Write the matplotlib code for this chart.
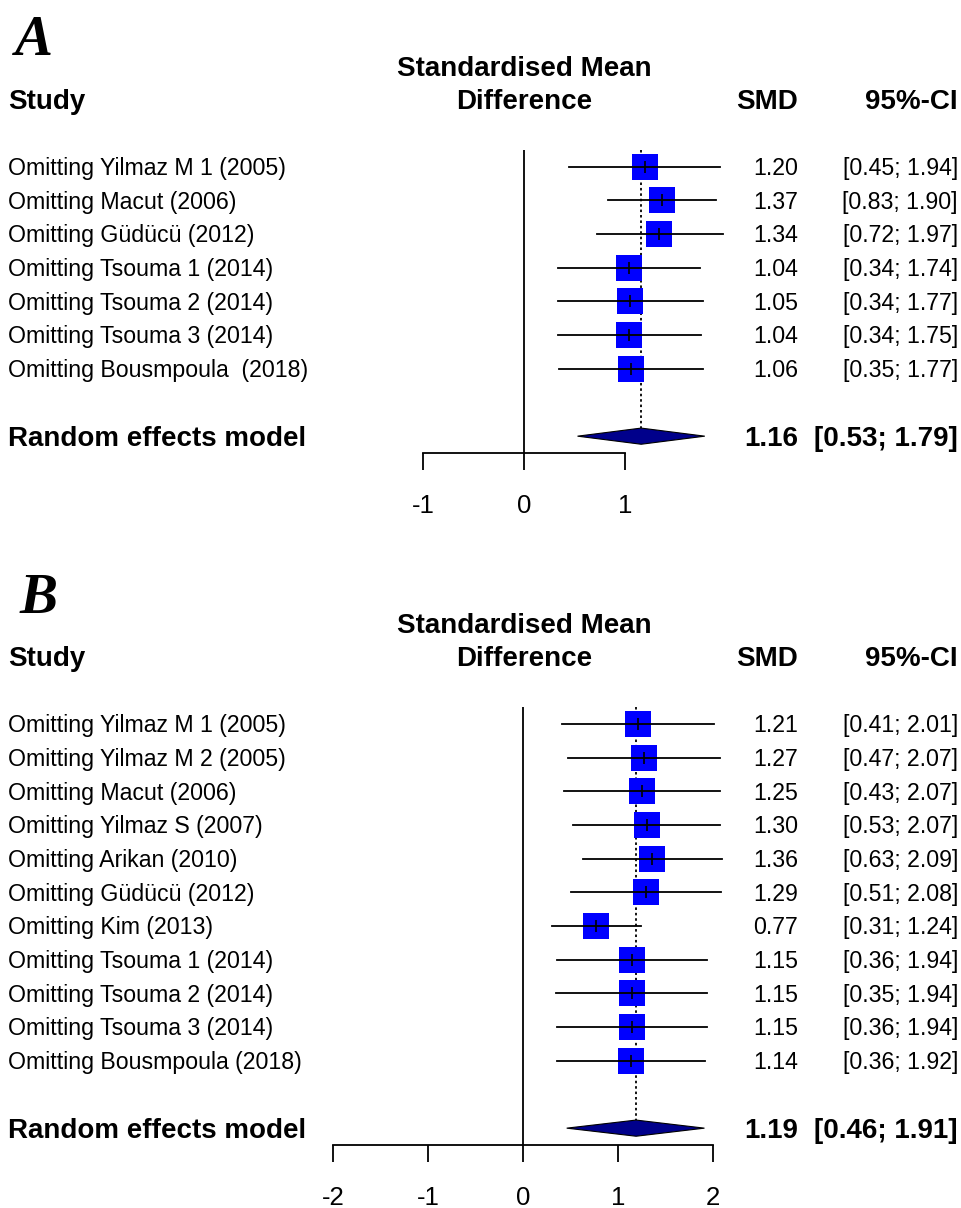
import numpy as np
import matplotlib
matplotlib.use("Agg")
import matplotlib.pyplot as plt
from matplotlib import transforms
from matplotlib.patches import Polygon

# ---------------- data ----------------
studies_a = ["Omitting Yilmaz M 1 (2005)", "Omitting Macut (2006)", "Omitting Güdücü (2012)",
             "Omitting Tsouma 1 (2014)", "Omitting Tsouma 2 (2014)", "Omitting Tsouma 3 (2014)",
             "Omitting Bousmpoula  (2018)"]
smd_a = [1.20, 1.37, 1.34, 1.04, 1.05, 1.04, 1.06]
lo_a = [0.45, 0.83, 0.72, 0.34, 0.34, 0.34, 0.35]
hi_a = [1.94, 1.90, 1.97, 1.74, 1.77, 1.75, 1.77]
pooled_a = [1.16, 0.53, 1.79]
ticks_a = [-1, 0, 1]

studies_b = ["Omitting Yilmaz M 1 (2005)", "Omitting Yilmaz M 2 (2005)", "Omitting Macut (2006)",
             "Omitting Yilmaz S (2007)", "Omitting Arikan (2010)", "Omitting Güdücü (2012)",
             "Omitting Kim (2013)", "Omitting Tsouma 1 (2014)", "Omitting Tsouma 2 (2014)",
             "Omitting Tsouma 3 (2014)", "Omitting Bousmpoula (2018)"]
smd_b = [1.21, 1.27, 1.25, 1.30, 1.36, 1.29, 0.77, 1.15, 1.15, 1.15, 1.14]
lo_b = [0.41, 0.47, 0.43, 0.53, 0.63, 0.51, 0.31, 0.36, 0.35, 0.36, 0.36]
hi_b = [2.01, 2.07, 2.07, 2.07, 2.09, 2.08, 1.24, 1.94, 1.94, 1.94, 1.92]
pooled_b = [1.19, 0.46, 1.91]
ticks_b = [-2, -1, 0, 1, 2]

# ---------------- style ----------------
plt.rcParams['font.family'] = ['Liberation Sans', 'DejaVu Sans']
W, H = 961, 1208
fig = plt.figure(figsize=(W / 100, H / 100), dpi=100)

REG = 16.7
BOLD = 20
LW = 1.3
SQ = '#0000FF'
DIA = '#00008B'


def rowtext(ax, xfig, row, s, size, weight='normal', ha='left'):
    trans = transforms.blended_transform_factory(fig.transFigure, ax.transData)
    off = transforms.ScaledTranslation(0, -0.358 * size / 72, fig.dpi_scale_trans)
    ax.text(xfig, row, s, transform=trans + off, fontsize=size, fontweight=weight,
            ha=ha, va='baseline', clip_on=False)


def panel(studies, smd, lo, hi, pooled, ticks, zero_px, unit_px, xlim, top_px, bottom_px,
          letter, letter_xy):
    n = len(studies)
    left_px = zero_px + unit_px * xlim[0]
    width_px = unit_px * (xlim[1] - xlim[0])
    ax = fig.add_axes([left_px / W, 1 - bottom_px / H, width_px / W, (bottom_px - top_px) / H])
    ax.set_xlim(xlim)
    ax.set_ylim(n + 1.5, -0.5)
    for s in ['top', 'right', 'left']:
        ax.spines[s].set_visible(False)
    ax.spines['bottom'].set_bounds(ticks[0], ticks[-1])
    ax.spines['bottom'].set_linewidth(LW)
    ax.set_xticks(ticks)
    ax.set_xticklabels([str(t) for t in ticks])
    ax.set_yticks([])
    ax.tick_params(axis='x', length=12.2, width=LW, pad=17, labelsize=18.5)
    ax.patch.set_alpha(0)

    rows = np.arange(n)
    re_row = n + 1
    dh = 0.24
    est, plo, phi = pooled

    ax.axvline(0, color='black', lw=LW, zorder=1)
    ax.plot([est, est], [-0.5, re_row - dh], color='black', lw=LW,
            ls=(0, (1.4, 1.6)), zorder=1, clip_on=False)
    ax.plot(smd, rows, 's', ms=18.6, color=SQ, mew=0, zorder=2)
    for i in range(n):
        ax.plot([lo[i], hi[i]], [rows[i], rows[i]], color='black', lw=LW, zorder=3)
    ax.plot(smd, rows, '|', ms=9, color='black', mew=1.2, zorder=4)
    ax.add_patch(Polygon([[plo, re_row], [est, re_row - dh], [phi, re_row], [est, re_row + dh]],
                         closed=True, fc=DIA, ec='black', lw=0.8, zorder=3, clip_on=False))

    # text columns
    for i in range(n):
        rowtext(ax, 8 / W, rows[i], studies[i], REG)
        rowtext(ax, 798 / W, rows[i], f"{smd[i]:.2f}", REG, ha='right')
        rowtext(ax, 958 / W, rows[i], f"[{lo[i]:.2f}; {hi[i]:.2f}]", REG, ha='right')
    rowtext(ax, 8 / W, re_row, "Random effects model", BOLD, 'bold')
    rowtext(ax, 798 / W, re_row, f"{est:.2f}", BOLD, 'bold', ha='right')
    rowtext(ax, 958 / W, re_row, f"[{plo:.2f}; {phi:.2f}]", BOLD, 'bold', ha='right')

    # headers
    rowtext(ax, 8 / W, -2, "Study", BOLD, 'bold')
    rowtext(ax, 524 / W, -3, "Standardised Mean", BOLD, 'bold', ha='center')
    rowtext(ax, 524 / W, -2, "Difference", BOLD, 'bold', ha='center')
    rowtext(ax, 798 / W, -2, "SMD", BOLD, 'bold', ha='right')
    rowtext(ax, 958 / W, -2, "95%-CI", BOLD, 'bold', ha='right')

    fig.text(letter_xy[0] / W, 1 - letter_xy[1] / H, letter, family='Liberation Serif',
             style='italic', fontweight='bold', fontsize=41, ha='left', va='baseline')
    return ax


panel(studies_a, smd_a, lo_a, hi_a, pooled_a, ticks_a, 524, 101, (-1.2, 2.0), 150, 453,
      "A", (15, 55))
panel(studies_b, smd_b, lo_b, hi_b, pooled_b, ticks_b, 523, 95, (-2.2, 2.4), 707, 1145,
      "B", (20, 613))

fig.savefig("out.png", dpi=100)
